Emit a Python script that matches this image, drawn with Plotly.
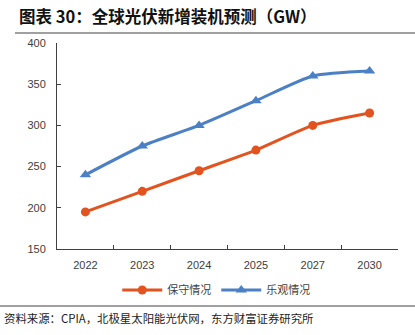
import plotly.graph_objects as go

years = ["2022", "2023", "2024", "2025", "2027", "2030"]
conservative = [195, 220, 245, 270, 300, 315]
optimistic = [240, 275, 300, 330, 360, 366]
y_ticks = [150, 200, 250, 300, 350, 400]

W, H = 415, 335
L, R, T, B = 57, 17, 43, 86
PW, PH = W - L - R, H - T - B


def paper_x(px):
    return (px - L) / PW


def paper_y(py):
    return (H - B - py) / PH


fig = go.Figure()
fig.add_trace(go.Scatter(
    x=years, y=conservative, name="保守情况", mode="lines+markers",
    line=dict(color="#E2531F", width=3, shape="spline", smoothing=0.6),
    marker=dict(symbol="circle", size=9, color="#E2531F"),
))
fig.add_trace(go.Scatter(
    x=years, y=optimistic, name="乐观情况", mode="lines+markers",
    line=dict(color="#4C80C4", width=3, shape="spline", smoothing=0.6),
    marker=dict(symbol="triangle-up", size=10, color="#4C80C4"),
))

fig.update_layout(
    width=W, height=H,
    margin=dict(l=L, r=R, t=T, b=B),
    paper_bgcolor="white", plot_bgcolor="white",
    font=dict(family="Arial, Liberation Sans, sans-serif", size=11, color="#404040"),
    showlegend=True,
    legend=dict(
        orientation="h", x=0.467, xanchor="center", y=paper_y(290), yanchor="middle",
        font=dict(family="Noto Sans CJK SC", size=11, color="#404040"),
        itemwidth=40, traceorder="normal",
    ),
    xaxis=dict(
        type="category", showline=True, linecolor="#404040", linewidth=1,
        ticks="inside", ticklen=4, tickcolor="#404040", tickson="boundaries",
        showgrid=False, zeroline=False, range=[-0.5, 5.5], ticklabelstandoff=6,
        tickfont=dict(size=11, color="#404040"),
    ),
    yaxis=dict(
        range=[150, 400], tickvals=y_ticks, showline=True, linecolor="#404040",
        linewidth=1, ticks="inside", ticklen=4, tickcolor="#404040",
        showgrid=False, zeroline=False, ticklabelstandoff=8,
        tickfont=dict(size=11, color="#404040"),
    ),
    shapes=[
        dict(type="line", xref="paper", yref="paper",
             x0=paper_x(15), x1=paper_x(W), y0=paper_y(33), y1=paper_y(33),
             line=dict(color="#808080", width=1.5)),
        dict(type="line", xref="paper", yref="paper",
             x0=paper_x(0), x1=paper_x(W), y0=paper_y(306), y1=paper_y(306),
             line=dict(color="#808080", width=1.5)),
    ],
    annotations=[
        dict(text="<b>图表 30：全球光伏新增装机预测（GW）</b>", xref="paper", yref="paper",
             x=paper_x(17), y=paper_y(16), xanchor="left", yanchor="middle",
             showarrow=False,
             font=dict(family="Noto Sans CJK SC", size=16.5, color="#111111")),
        dict(text="资料来源：CPIA，北极星太阳能光伏网，东方财富证券研究所", xref="paper", yref="paper",
             x=paper_x(2), y=paper_y(318), xanchor="left", yanchor="middle",
             showarrow=False,
             font=dict(family="Noto Sans CJK SC", size=11.4, color="#222222")),
    ],
)

fig.write_html("out.html")
